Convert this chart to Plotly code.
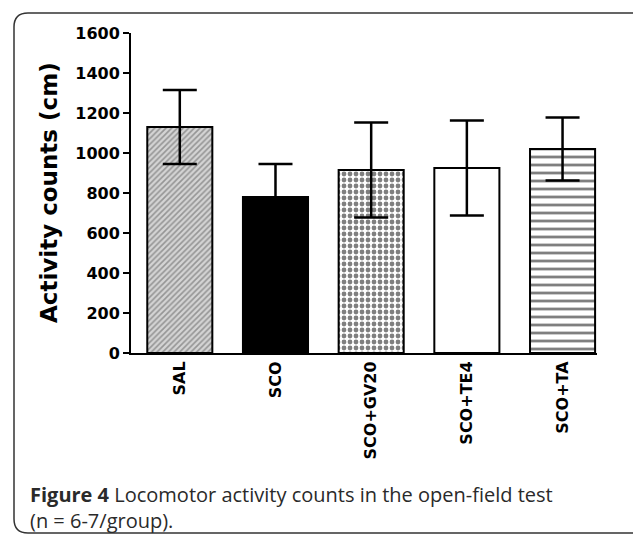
import plotly.graph_objects as go

categories = ["SAL", "SCO", "SCO+GV20", "SCO+TE4", "SCO+TA"]
means = [1130, 780, 915, 925, 1020]
errors = [185, 165, 238, 238, 158]
y_ticks = [0, 200, 400, 600, 800, 1000, 1200, 1400, 1600]

fills = ["#d4d4d4", "black", "white", "white", "white"]
shapes = ["/", "", ".", "", "-"]
fgcolors = ["#555555", "black", "black", "black", "black"]
psizes = [4, 6, 6, 6, 8]
psolid = [0.4, 0.3, 0.5, 0.3, 0.35]

fig = go.Figure()
for i, c in enumerate(categories):
    fig.add_trace(go.Bar(
        x=[c], y=[means[i]], width=0.68,
        marker=dict(color=fills[i], line=dict(color="black", width=2),
                    pattern=dict(shape=shapes[i], fgcolor=fgcolors[i], bgcolor=fills[i],
                                 size=psizes[i], solidity=psolid[i], fillmode="overlay")),
        error_y=dict(type="data", array=[errors[i]], visible=True, color="black", thickness=2.5, width=17),
        showlegend=False))

# plot area in pixels: x 131..597, y 33..353
L, R, T, B = 131, 597, 33, 353
W, H = R - L, B - T
def px(x): return (x - L) / W
def py(y): return (B - y) / H

x0, y0, x1, y1, r = 14, 13, 660, 533, 14
path = (f"M {px(x0+r)},{py(y0)} L {px(x1)},{py(y0)} L {px(x1)},{py(y1)} "
        f"L {px(x0+r)},{py(y1)} Q {px(x0)},{py(y1)} {px(x0)},{py(y1-r)} "
        f"L {px(x0)},{py(y0+r)} Q {px(x0)},{py(y0)} {px(x0+r)},{py(y0)} Z")

fig.update_layout(
    width=633, height=534,
    margin=dict(l=L, r=633 - R, t=T, b=534 - B),
    plot_bgcolor="white", paper_bgcolor="white",
    font=dict(family="DejaVu Sans", color="black"),
    shapes=[dict(type="path", path=path, xref="paper", yref="paper",
                 line=dict(color="#333333", width=1.5), layer="below")],
    annotations=[
        dict(text="Activity counts (cm)", xref="paper", yref="paper",
             x=px(49), y=py(193), textangle=-90, showarrow=False,
             font=dict(size=23, family="DejaVu Sans", color="black", weight="bold"),
             xanchor="center", yanchor="middle"),
        dict(text="<b>Figure 4</b> Locomotor activity counts in the open-field test<br>(n = 6-7/group).",
             xref="paper", yref="paper", x=px(28), y=py(507), showarrow=False,
             xanchor="left", yanchor="middle", align="left",
             font=dict(size=20, family="Open Sans", color="#2a2a2a")),
    ],
)
fig.update_xaxes(range=[-0.51, 4.36], showline=True, linecolor="black", linewidth=2,
                 ticks="", tickangle=-90,
                 tickfont=dict(size=16, family="DejaVu Sans", weight="bold"),
                 showgrid=False, fixedrange=True)
fig.update_yaxes(range=[0, 1600], tickvals=y_ticks, showline=True, linecolor="black",
                 linewidth=2, ticks="outside", ticklen=6, tickwidth=2, tickcolor="black",
                 tickfont=dict(size=16, family="DejaVu Sans", weight="bold"),
                 showgrid=False, zeroline=False)

fig.write_html("out.html", config={"displayModeBar": False},
               post_script="document.body.style.margin='0';document.body.style.overflow='hidden';")
